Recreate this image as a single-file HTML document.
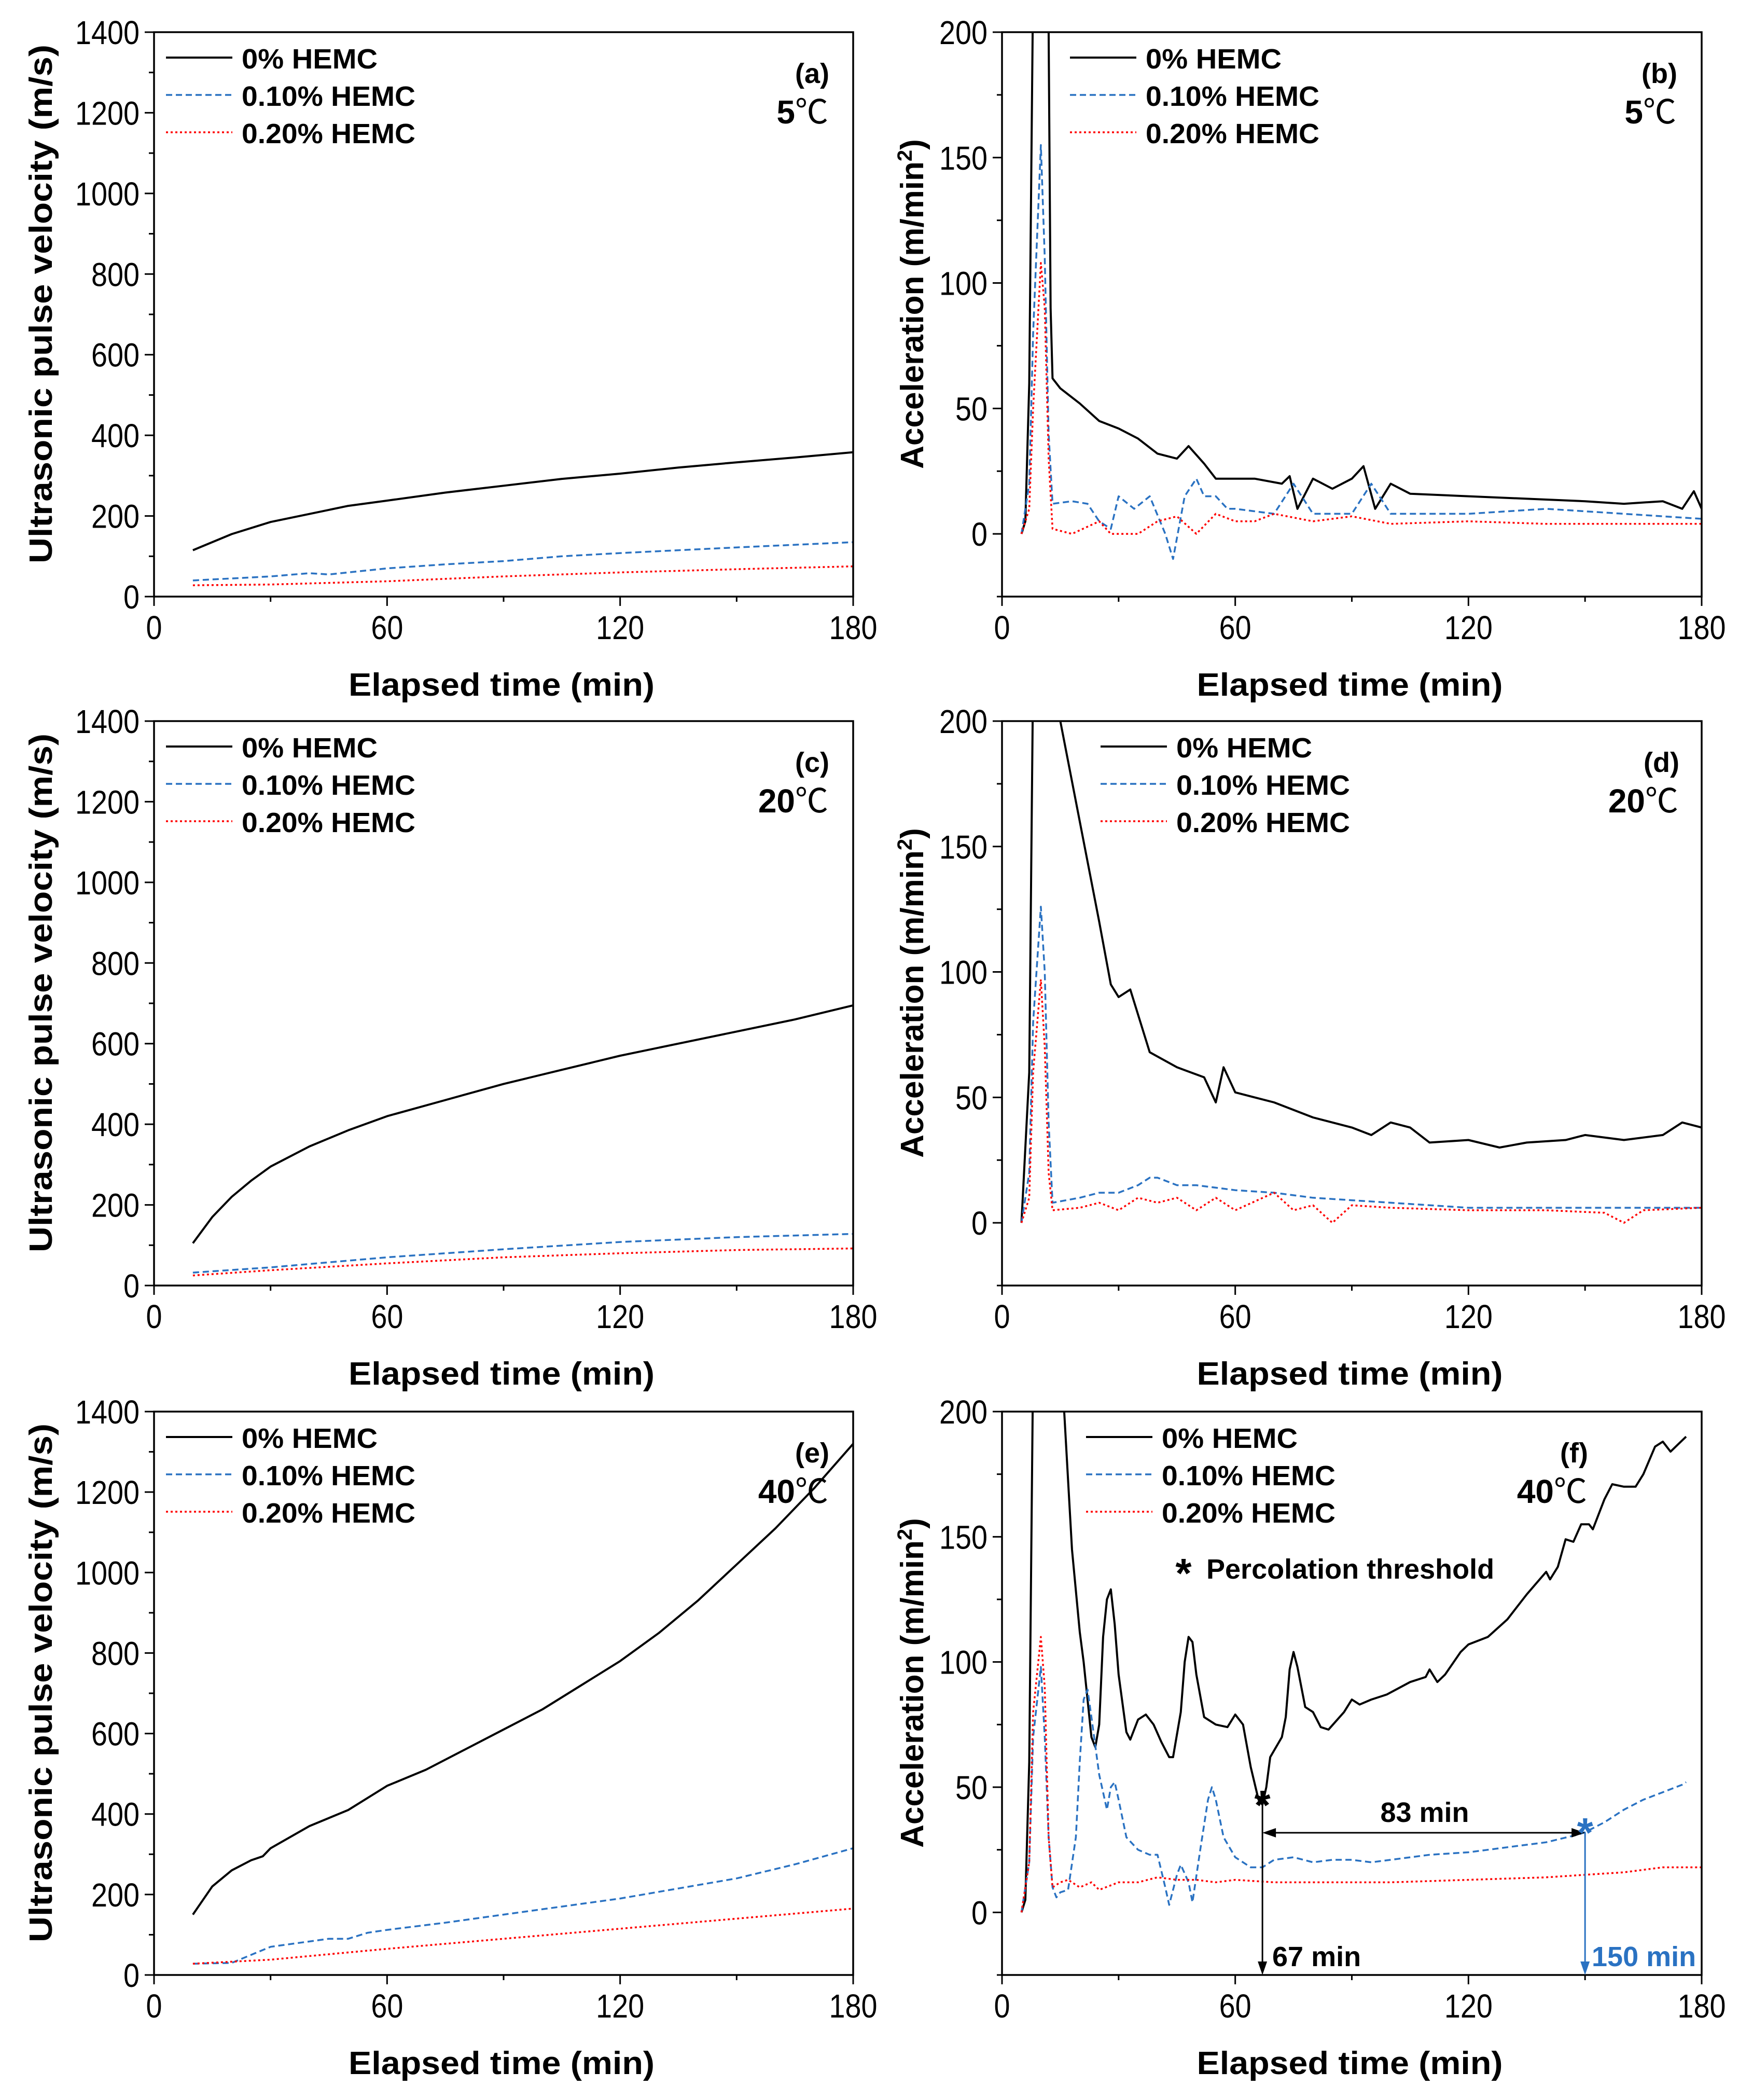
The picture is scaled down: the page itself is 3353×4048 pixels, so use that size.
<!DOCTYPE html>
<html><head><meta charset="utf-8">
<style>
html,body{margin:0;padding:0;background:#fff;}
svg{display:block;}
text{font-family:"Liberation Sans",sans-serif;}
.tick{font-family:"Liberation Sans Narrow","Liberation Sans",sans-serif;font-size:64px;}
.title{font-weight:bold;font-size:62px;}
.leg{font-weight:bold;font-size:54px;}
</style></head>
<body>
<svg id="fig" width="3353" height="4048" viewBox="0 0 3353 4048" xmlns="http://www.w3.org/2000/svg"></svg>
<script>
const a_t0=[10,20,30,40,50,60,75,90,105,120,135,150,165,180];
const a_v0=[115,155,185,205,225,238,258,275,292,305,320,333,345,358];
const a_t1=[10,20,30,40,45,60,75,90,105,120,150,180];
const a_v1=[40,45,50,58,55,70,80,88,100,108,122,135];
const a_t2=[10,30,60,90,120,150,180];
const a_v2=[28,30,38,50,60,68,75];

const c_t0=[10,15,20,25,30,40,50,60,75,90,105,120,135,150,165,180];
const c_v0=[105,170,220,260,295,345,385,420,460,500,535,570,600,630,660,695];
const c_t1=[10,30,60,90,120,150,180];
const c_v1=[32,45,70,90,108,120,128];
const c_t2=[10,30,60,90,120,150,180];
const c_v2=[25,38,55,70,80,88,92];

const e_t0=[10,15,20,25,28,30,40,50,55,60,70,80,90,100,110,120,130,140,150,160,170,180];
const e_v0=[150,220,260,285,295,315,370,410,440,470,510,560,610,660,720,780,850,930,1020,1110,1210,1320];
const e_t1=[10,20,30,45,50,55,60,75,90,105,120,135,150,165,180];
const e_v1=[28,30,70,90,90,105,112,130,150,170,190,215,240,275,315];
const e_t2=[10,30,60,90,120,150,180];
const e_v2=[28,38,65,90,115,140,165];

const b_t0=[5,6,7,8,9.5,11,12,12.5,13,15,20,25,30,35,40,45,48,52,55,65,72,74,76,80,85,90,93,96,100,105,120,135,150,160,170,175,178,180];
const b_a0=[0,5,60,220,300,250,200,90,62,58,52,45,42,38,32,30,35,28,22,22,20,23,10,22,18,22,27,10,20,16,15,14,13,12,13,10,17,10];
const b_t1=[5,7,8,10,11,12,13,18,22,25,28,30,34,38,42,44,47,50,52,55,58,60,70,75,80,90,95,100,120,140,160,180];
const b_a1=[0,20,80,155,110,40,12,13,12,5,2,15,10,15,0,-10,15,22,15,15,10,10,8,20,8,8,20,8,8,10,8,6];
const b_t2=[5,7,8,10,11,12,13,18,25,28,35,40,45,50,55,60,65,70,80,90,100,120,140,160,180];
const b_a2=[0,10,50,108,90,30,2,0,5,0,0,5,7,0,8,5,5,8,5,7,4,5,4,4,4];

const d_t0=[5,7,8,9,12,15,20,25,28,30,33,38,45,52,55,57,60,70,80,90,95,100,105,110,120,128,135,145,150,160,170,175,180];
const d_a0=[0,60,220,350,300,200,160,120,95,90,93,68,62,58,48,62,52,48,42,38,35,40,38,32,33,30,32,33,35,33,35,40,38];
const d_t1=[5,7,8,10,11,12,13,20,25,30,35,38,40,45,50,60,70,80,90,100,120,140,160,180];
const d_a1=[0,20,80,126,100,40,8,10,12,12,15,18,18,15,15,13,12,10,9,8,6,6,6,6];
const d_t2=[5,7,8,10,11,12,13,20,25,30,35,40,45,50,55,60,70,75,80,85,90,100,120,140,155,160,165,180];
const d_a2=[0,10,60,97,70,20,5,6,8,5,10,8,10,5,10,5,12,5,7,0,7,6,5,5,4,0,5,6];

const f_t0=[5,6,7,8,10,14,16,18,20,21,23,24,25,26,27,28,29,30,32,33,35,37,39,41,43,44,46,47,48,49,50,52,55,58,60,62,64,66,67,68,69,72,73,74,75,76,78,80,82,84,88,90,92,95,99,105,109,110,112,114,118,120,125,130,135,140,141,143,145,147,149,151,152,155,157,160,163,165,168,170,172,174,176];
const f_a0=[0,5,60,220,350,250,200,145,112,100,70,66,75,110,125,129,115,95,72,69,77,79,75,68,62,62,80,100,110,108,95,78,75,74,79,75,58,45,43,50,62,70,78,97,104,98,82,80,74,73,80,85,83,85,87,92,94,97,92,95,104,107,110,117,127,136,133,138,149,148,155,155,153,165,171,170,170,175,186,188,184,187,190];
const f_t1=[5,7,8,10,11,12,13,14,15,17,19,20,21,22,23,25,27,28,29,30,32,35,38,40,42,43,45,46,48,49,51,53,54,55,57,60,64,67,70,75,80,85,90,95,100,110,120,125,130,140,148,150,155,160,165,170,175,176];
const f_a1=[0,20,70,98,70,30,10,6,8,9,30,60,85,89,78,55,41,50,52,45,30,25,23,23,10,3,15,19,12,4,25,45,50,45,30,22,18,18,21,22,20,21,21,20,21,23,24,25,26,28,31,32,36,41,45,48,51,52];
const f_t2=[5,7,8,10,11,12,13,15,17,20,23,25,30,35,40,45,50,55,60,70,80,90,100,120,140,150,160,170,180];
const f_a2=[0,20,80,110,90,30,10,12,13,10,12,9,12,12,14,13,13,12,13,12,12,12,12,13,14,15,16,18,18];

const velTicks=[0,200,400,600,800,1000,1200,1400];
const accTicks=[0,50,100,150,200];
const timeTicks=[0,60,120,180];
const legendLabels=["0% HEMC","0.10% HEMC","0.20% HEMC"];

const NS="http://www.w3.org/2000/svg";
const svg=document.getElementById('fig');
function el(tag,attrs,parent,txt){const e=document.createElementNS(NS,tag);for(const k in attrs)e.setAttribute(k,attrs[k]);if(txt!==undefined)e.textContent=txt;(parent||svg).appendChild(e);return e;}

const COLS=[{L:297,R:1645},{L:1932,R:3281}];
const ROWS=[{T:62,B:1150,xt:1341},{T:1390,B:2478,xt:2669},{T:2721,B:3807,xt:3998}];
const STY=[{c:"#000",w:4,d:""},{c:"#2a72c2",w:3.5,d:"12 7"},{c:"#ff0000",w:3.5,d:"4 5"}];

let clipId=0;
function panel(col,row,type,series,label,temp,legX,tempX){
  const L=COLS[col].L,R=COLS[col].R,T=ROWS[row].T,B=ROWS[row].B;
  const g=el('g',{});
  
  
  const ymin=type==='vel'?0:-25,ymax=type==='vel'?1400:200;
  const xs=t=>L+t/180*(R-L);
  const ys=v=>B-(v-ymin)/(ymax-ymin)*(B-T);
  timeTicks.forEach(t=>{el('line',{x1:xs(t),x2:xs(t),y1:B,y2:B+18,stroke:'#000','stroke-width':3},g);
    const s=String(t);
    const tx=el('text',{x:xs(t),y:B+82,'text-anchor':'middle',class:'tick',textLength:s.length*31,lengthAdjust:'spacingAndGlyphs'},g,s);
    });
  [30,90,150].forEach(t=>el('line',{x1:xs(t),x2:xs(t),y1:B,y2:B+10,stroke:'#000','stroke-width':3},g));
  const ticks=type==='vel'?velTicks:accTicks;
  ticks.forEach(v=>{el('line',{x1:L-18,x2:L,y1:ys(v),y2:ys(v),stroke:'#000','stroke-width':3},g);
    const s=String(v);
    const tx=el('text',{x:L-28,y:ys(v)+23,'text-anchor':'end',class:'tick',textLength:s.length*31,lengthAdjust:'spacingAndGlyphs'},g,s);
    });
  const step=type==='vel'?200:50;
  for(let v=ymin+(type==='vel'?100:0);v<ymax;v+=step){ el('line',{x1:L-10,x2:L,y1:ys(v),y2:ys(v),stroke:'#000','stroke-width':3},g);}
  const cid='clip'+(clipId++);
  const cp=el('clipPath',{id:cid},g);el('rect',{x:L,y:T,width:R-L,height:B-T},cp);
  series.forEach((s,i)=>{
    const pts=s[0].map((t,k)=>xs(t).toFixed(1)+','+ys(s[1][k]).toFixed(1)).join(' ');
    const p=el('polyline',{points:pts,fill:'none',stroke:STY[i].c,'stroke-width':STY[i].w,'stroke-dasharray':STY[i].d,'stroke-linejoin':'round','clip-path':'url(#'+cid+')'},g);
    
    
  });
  el('rect',{x:L,y:T,width:R-L,height:B-T,fill:'none',stroke:'#000','stroke-width':3.5},g);
  const xt=el('text',{x:(L+R)/2-4,y:ROWS[row].xt,'text-anchor':'middle',class:'title',textLength:590,lengthAdjust:'spacingAndGlyphs'},g,'Elapsed time (min)');
  
  const ty=col===0?100:1780, cy=(T+B)/2;
  let yt;
  if(type==='vel'){yt=el('text',{transform:`translate(${ty},${cy-20}) rotate(-90)`,'text-anchor':'middle',class:'title',textLength:1000,lengthAdjust:'spacingAndGlyphs'},g,'Ultrasonic pulse velocity (m/s)');}
  else{yt=el('text',{transform:`translate(${ty},${cy-20}) rotate(-90)`,'text-anchor':'middle',class:'title'},g);
    el('tspan',{},yt,'Acceleration (m/min');el('tspan',{dy:-22,'font-size':40},yt,'2');el('tspan',{dy:22},yt,')');}
  
  legendLabels.forEach((lab,i)=>{
    const y=T+49+i*72;
    const lg=el('g',{},g);
    
    el('line',{x1:legX,x2:legX+128,y1:y,y2:y,stroke:STY[i].c,'stroke-width':STY[i].w,'stroke-dasharray':STY[i].d},lg);
    el('text',{x:legX+146,y:y+21,class:'leg','font-size':56,textLength:i===0?262:335,lengthAdjust:'spacingAndGlyphs'},lg,lab);
  });
  const pl=el('text',{x:tempX,y:T+98,'text-anchor':'end',class:'leg','font-size':62},g,label);
  
  const tp=el('text',{x:tempX-2,y:T+176,'text-anchor':'end','font-size':64},g);
  
  el('tspan',{'font-weight':'bold'},tp,temp);el('tspan',{'font-family':'"Liberation Sans","Noto Sans CJK SC",sans-serif'},tp,'℃');
  return {xs,ys,g};
}
panel(0,0,'vel',[[a_t0,a_v0],[a_t1,a_v1],[a_t2,a_v2]],'(a)','5',320,1599);
panel(1,0,'acc',[[b_t0,b_a0],[b_t1,b_a1],[b_t2,b_a2]],'(b)','5',2063,3234);
panel(0,1,'vel',[[c_t0,c_v0],[c_t1,c_v1],[c_t2,c_v2]],'(c)','20',320,1599);
panel(1,1,'acc',[[d_t0,d_a0],[d_t1,d_a1],[d_t2,d_a2]],'(d)','20',2122,3238);
panel(0,2,'vel',[[e_t0,e_v0],[e_t1,e_v1],[e_t2,e_v2]],'(e)','40',320,1599);
const F=panel(1,2,'acc',[[f_t0,f_a0],[f_t1,f_a1],[f_t2,f_a2]],'(f)','40',2094,3062);

const thrBlack=[67,43], thrBlue=[150,32];
const ag=el('g',{});


const B3=ROWS[2].B;
function arrowV(x,y0,col){el('line',{x1:x,x2:x,y1:y0,y2:B3-20,stroke:col,'stroke-width':3},ag);
  el('polygon',{points:`${x-9},${B3-26} ${x+9},${B3-26} ${x},${B3}`,fill:col},ag);}
arrowV(F.xs(thrBlack[0]),F.ys(thrBlack[1]),'#000');
arrowV(F.xs(thrBlue[0]),F.ys(thrBlue[1]),'#2a72c2');
const hy=F.ys(31.8),hx1=F.xs(67),hx2=F.xs(150);
el('line',{x1:hx1+20,x2:hx2-20,y1:hy,y2:hy,stroke:'#000','stroke-width':3},ag);
el('polygon',{points:`${hx1},${hy} ${hx1+26},${hy-9} ${hx1+26},${hy+9}`},ag);
el('polygon',{points:`${hx2},${hy} ${hx2-26},${hy-9} ${hx2-26},${hy+9}`},ag);
el('text',{x:F.xs(thrBlack[0]),y:F.ys(thrBlack[1])+28,'text-anchor':'middle','font-size':80,'font-weight':'bold'},ag,'*');
el('text',{x:F.xs(thrBlue[0]),y:F.ys(thrBlue[1])+28,'text-anchor':'middle','font-size':80,'font-weight':'bold',fill:'#2a72c2'},ag,'*');
el('text',{x:2747,y:3512,'text-anchor':'middle',class:'leg'},ag,'83 min');
el('text',{x:2453,y:3790,class:'leg'},ag,'67 min');
el('text',{x:3069,y:3790,class:'leg',fill:'#2a72c2'},ag,'150 min');
el('text',{x:2282,y:3060,'text-anchor':'middle','font-size':80,'font-weight':'bold'},ag,'*');
el('text',{x:2326,y:3043,class:'leg','font-size':50},ag,'Percolation threshold');
</script>
</body></html>
